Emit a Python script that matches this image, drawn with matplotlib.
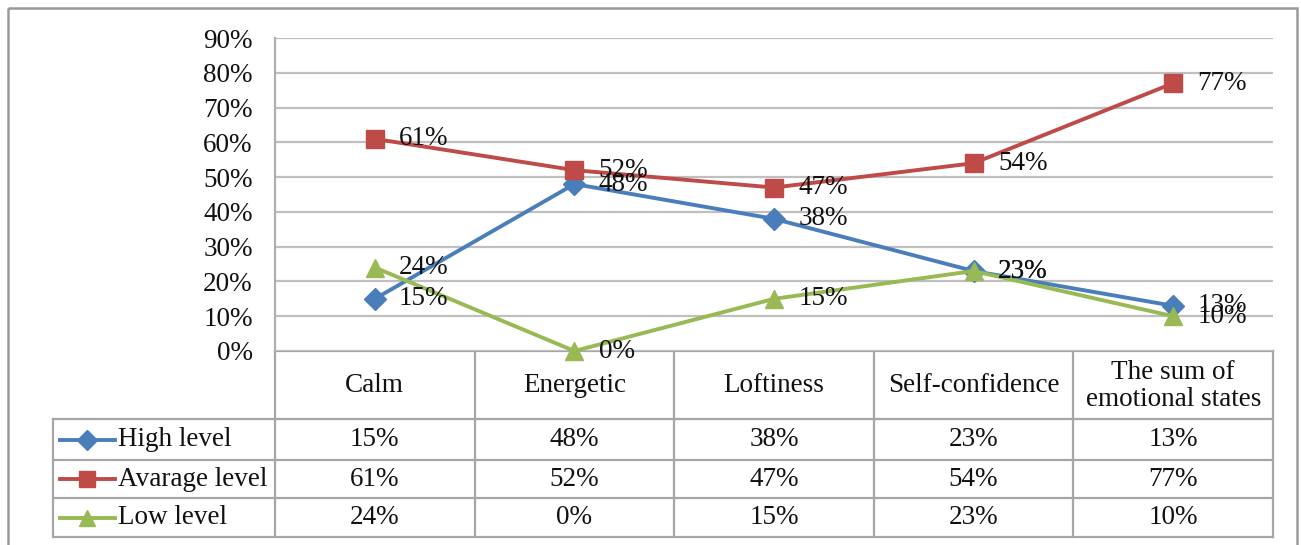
import matplotlib
matplotlib.use("Agg")
import matplotlib.pyplot as plt
from matplotlib.lines import Line2D
from matplotlib.patches import Rectangle

plt.rcParams['font.family'] = ['Liberation Serif', 'DejaVu Serif']

categories = ["Calm", "Energetic", "Loftiness", "Self-confidence", "The sum of\nemotional states"]
series_names = ["High level", "Avarage level", "Low level"]
high = [15, 48, 38, 23, 13]
average = [61, 52, 47, 54, 77]
low = [24, 0, 15, 23, 10]
yticks = [0, 10, 20, 30, 40, 50, 60, 70, 80, 90]

values = [high, average, low]
colors = ["#4A7EBB", "#BE4B48", "#98B954"]
markers = ["D", "s", "^"]
msizes = [11, 13, 13]
FS = 19.5

W, H = 1301, 545
fig = plt.figure(figsize=(W / 100, H / 100), dpi=100)

L, R, T, B = 275, 1273, 38, 351
ax = fig.add_axes([L / W, 1 - B / H, (R - L) / W, (B - T) / H])
ax.set_xlim(-0.5, len(categories) - 0.5)
ax.set_ylim(0, 90)
ax.set_yticks(yticks)
ax.set_yticklabels([f"{v}%" for v in yticks], fontsize=FS, color="#111111")
ax.set_xticks([])
ax.tick_params(axis='y', length=0, pad=16)
ax.grid(axis='y', color="#BFBFBF", linewidth=1.6)
ax.set_axisbelow(True)
for s in ["top", "right", "bottom"]:
    ax.spines[s].set_visible(False)
ax.spines["left"].set_color("#AFAFAF")
ax.spines["left"].set_linewidth(1.6)

xs = list(range(len(categories)))
for vals, c, m, ms in zip(values, colors, markers, msizes):
    ax.plot(xs, vals, color=c, linewidth=2.8, marker=m, markersize=ms,
            markerfacecolor=c, markeredgecolor=c, clip_on=False, zorder=3)
    for x, v in zip(xs, vals):
        ax.annotate(f"{v}%", (x, v), xytext=(17.5, 0), textcoords="offset points",
                    ha="left", va="center", fontsize=FS, color="#111111",
                    annotation_clip=False, zorder=4)

# overlay for table and border (pixel coordinates)
ov = fig.add_axes([0, 0, 1, 1], zorder=-1)
ov.set_xlim(0, W)
ov.set_ylim(H, 0)
ov.axis("off")

ov.add_patch(Rectangle((8, 8), 1289, 560, fill=False, edgecolor="#9A9A9A", linewidth=1.8))

n = len(categories)
colw = (R - L) / n
tl = 53
row_y = [B, 419, 460, 498, 537]
lc = "#A6A6A6"
lw = 1.6
ov.plot([L, R], [B, B], color=lc, lw=lw)
for y in row_y[1:]:
    ov.plot([tl, R], [y, y], color=lc, lw=lw)
ov.plot([tl, tl], [row_y[1], row_y[-1]], color=lc, lw=lw)
for i in range(n + 1):
    x = L + i * colw
    ov.plot([x, x], [B, row_y[-1]], color=lc, lw=lw)

for i, cat in enumerate(categories):
    ov.text(L + (i + 0.5) * colw, (row_y[0] + row_y[1]) / 2 + 1, cat, ha="center", va="center",
            fontsize=FS, color="#111111", linespacing=1.15)

for r, (name, vals, c, m, ms) in enumerate(zip(series_names, values, colors, markers, msizes)):
    yc = (row_y[r + 1] + row_y[r + 2]) / 2
    ov.add_line(Line2D([60, 115], [yc, yc], color=c, lw=2.8))
    ov.plot([87], [yc], marker=m, color=c, markersize=ms - 1, markeredgecolor=c)
    ov.text(118, yc, name, ha="left", va="center", fontsize=FS, color="#111111")
    for i, v in enumerate(vals):
        ov.text(L + (i + 0.5) * colw, yc, f"{v}%", ha="center", va="center",
                fontsize=FS, color="#111111")

fig.savefig("out.png", dpi=100)
